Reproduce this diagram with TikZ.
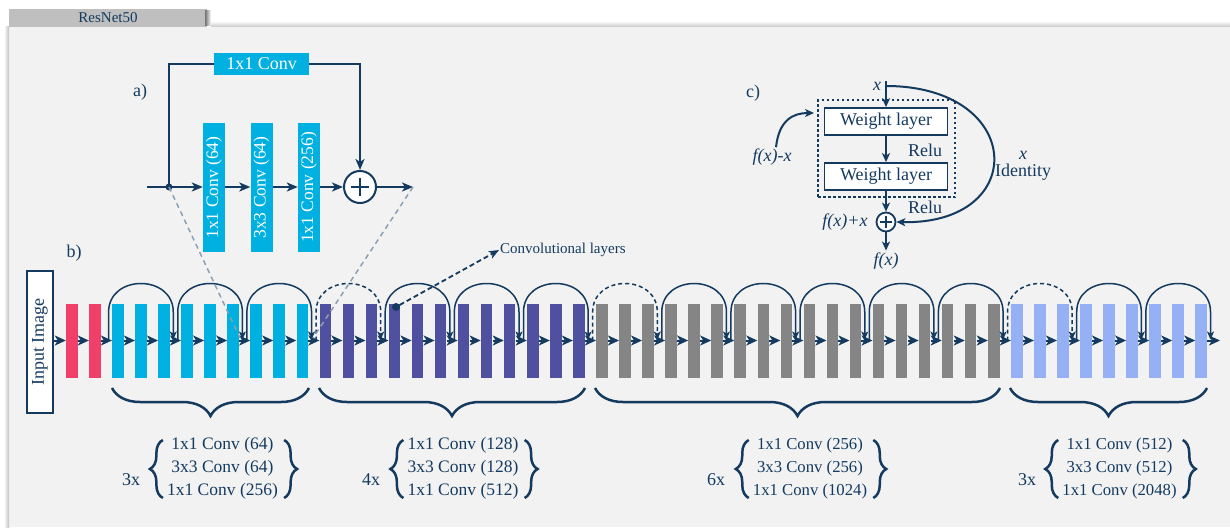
\documentclass[tikz,border=0pt]{standalone}
\usepackage{fontspec}
\setmainfont{Liberation Serif}
\usetikzlibrary{arrows.meta,decorations.pathreplacing,calc}
\definecolor{navy}{RGB}{20,58,95}
\definecolor{panelbg}{RGB}{242,242,242}
\definecolor{tabgray}{RGB}{191,191,191}
\definecolor{cpink}{RGB}{240,64,106}
\definecolor{ccyan}{RGB}{0,176,224}
\definecolor{cpurple}{RGB}{80,80,160}
\definecolor{cgray}{RGB}{133,133,133}
\definecolor{clblue}{RGB}{150,176,245}
\definecolor{zoomgray}{RGB}{140,160,180}
\begin{document}
\begin{tikzpicture}[x=1pt,y=1pt,
  txt/.style={font=\fontsize{18}{21}\selectfont, text=navy},
  itxt/.style={font=\fontsize{18}{21}\selectfont\itshape, text=navy},
  smalltxt/.style={font=\fontsize{15}{18}\selectfont, text=navy},
  bar/.style={minimum width=11.5pt, minimum height=74pt, inner sep=0pt, draw=none},
  mainarrow/.style={navy, line width=2pt, -{Stealth[length=11pt,width=10pt,inset=3pt]}},
  skipsolid/.style={navy, line width=1.5pt, -{Stealth[length=8pt,width=7pt,inset=2pt]}},
  skipdash/.style={skipsolid, dash pattern=on 4pt off 3pt},
  cbox/.style={fill=ccyan, draw=none, inner sep=0pt},
  boxtxt/.style={font=\fontsize{17.5}{21}\selectfont, text=white},
  aarrow/.style={navy, line width=2pt, -{Stealth[length=11pt,width=9pt,inset=3pt]}},
  aline/.style={navy, line width=2pt},
  carrow/.style={navy, line width=2pt, -{Stealth[length=9pt,width=8pt,inset=2.5pt]}},
  wbox/.style={draw=navy, line width=1.8pt, fill=white, minimum width=123pt, minimum height=27pt, inner sep=0pt, font=\fontsize{18}{21}\selectfont, text=navy},
  zoomline/.style={zoomgray, line width=1.5pt, dash pattern=on 5pt off 4pt},
  bracedec/.style={navy, line width=2.5pt, decorate, decoration={brace, mirror, amplitude=28pt}},
  vbrace/.style={navy, line width=2.5pt, decorate, decoration={brace, amplitude=13pt}},
  grp/.style={text=navy, inner sep=0pt, align=center}
]
\useasboundingbox (0,0) rectangle (1230,-527);
\fill[white] (0,0) rectangle (1230,-527);
% tab and panel
\fill[tabgray] (9,-9) rectangle (207,-28);
\shade[left color=black!55, right color=white] (205,-11) rectangle (211,-26);
\node[smalltxt] (tab) at (108,-18) {ResNet50};
\fill[panelbg] (9,-27) rectangle (1230,-527);
\shade[top color=white, bottom color=black!22] (211,-21) rectangle (1230,-27);
\shade[left color=white, right color=black!25] (4,-27) rectangle (9,-527);

% ---------- panel b ----------
\node[txt] (blab) at (74,-253) {b)};
\node[draw=navy, line width=1.5pt, fill=white, minimum width=26pt, minimum height=142pt, inner sep=0pt] (inp) at (40,-342) {};
\node[txt, rotate=90] (inptxt) at (inp.center) {Input Image};

\foreach \i in {0,1}{\pgfmathsetmacro\cx{71.75+23.05*\i}\node[bar, fill=cpink] (b\i) at (\cx,-340.5) {};}
\foreach \i in {2,...,10}{\pgfmathsetmacro\cx{71.75+23.05*\i}\node[bar, fill=ccyan] (b\i) at (\cx,-340.5) {};}
\foreach \i in {11,...,22}{\pgfmathsetmacro\cx{71.75+23.05*\i}\node[bar, fill=cpurple] (b\i) at (\cx,-340.5) {};}
\foreach \i in {23,...,40}{\pgfmathsetmacro\cx{71.75+23.05*\i}\node[bar, fill=cgray] (b\i) at (\cx,-340.5) {};}
\foreach \i in {41,...,49}{\pgfmathsetmacro\cx{71.75+23.05*\i}\node[bar, fill=clblue] (b\i) at (\cx,-340.5) {};}

\coordinate (lineend) at (1220,-340.5);
\draw[mainarrow] (inp.east |- b0.west) -- (b0.west);
\foreach \i in {0,...,48}{\pgfmathtruncatemacro\j{\i+1}\draw[mainarrow] (b\i.east) -- (b\j.west);}
\draw[mainarrow] (b49.east) -- (lineend);

% skip arcs
\foreach \s in {2,5,8,14,17,20,26,29,32,35,38,44,47}{
  \pgfmathsetmacro\xa{66+23.05*\s-3.5}
  \pgfmathsetmacro\xb{66+23.05*(\s+3)-8}
  \coordinate (as\s) at (\xa,-340.5);
  \coordinate (ae\s) at (\xb,-339.5);
  \draw[skipsolid] (as\s) -- (\xa,-312) .. controls (\xa,-274) and (\xb,-274) .. (\xb,-312) -- (ae\s);
}
\foreach \s in {11,23,41}{
  \pgfmathsetmacro\xa{66+23.05*\s-3.5}
  \pgfmathsetmacro\xb{66+23.05*(\s+3)-8}
  \coordinate (as\s) at (\xa,-340.5);
  \coordinate (ae\s) at (\xb,-339.5);
  \draw[skipdash] (as\s) -- (\xa,-312) .. controls (\xa,-274) and (\xb,-274) .. (\xb,-312) -- (ae\s);
}

% convolutional layers annotation
\node[circle, fill=navy, minimum size=8pt, inner sep=0pt] (cdot) at (396,-307) {};
\node[smalltxt, anchor=west, inner sep=1pt] (cl) at (499,-250) {Convolutional layers};
\draw[navy, line width=1.8pt, dash pattern=on 5pt off 3pt, -{Stealth[length=10pt,width=8pt,inset=2.5pt]}] (cdot) -- (cl.west);

% braces under stages
\coordinate (br1a) at (112,-388); \coordinate (br1b) at (309,-388);
\coordinate (br2a) at (319,-388); \coordinate (br2b) at (585,-388);
\coordinate (br3a) at (595,-388); \coordinate (br3b) at (1000,-388);
\coordinate (br4a) at (1010,-388); \coordinate (br4b) at (1207,-388);
\draw[bracedec] (br1a) -- (br1b);
\draw[bracedec] (br2a) -- (br2b);
\draw[bracedec] (br3a) -- (br3b);
\draw[bracedec] (br4a) -- (br4b);

% stage descriptions
\node[txt] (n1) at (131,-480) {3x};
\node[grp, font=\fontsize{17.5}{23}\selectfont] (g1) at (222.5,-468) {1x1 Conv (64)\\3x3 Conv (64)\\1x1 Conv (256)};
\node[txt] (n2) at (371,-480) {4x};
\node[grp, font=\fontsize{17.5}{23}\selectfont] (g2) at (463,-468) {1x1 Conv (128)\\3x3 Conv (128)\\1x1 Conv (512)};
\node[txt] (n3) at (716,-480) {6x};
\node[grp, font=\fontsize{16.7}{23}\selectfont] (g3) at (810,-468) {1x1 Conv (256)\\3x3 Conv (256)\\1x1 Conv (1024)};
\node[txt] (n4) at (1027,-480) {3x};
\node[grp, font=\fontsize{16.7}{23}\selectfont] (g4) at (1119.5,-468) {1x1 Conv (512)\\3x3 Conv (512)\\1x1 Conv (2048)};
\foreach \g in {g1,g2,g3,g4}{
  \draw[vbrace] ([xshift=-4pt]\g.west |- 0,-498) -- ([xshift=-4pt]\g.west |- 0,-440);
  \draw[vbrace] ([xshift=6pt]\g.east |- 0,-440) -- ([xshift=6pt]\g.east |- 0,-498);
}

% ---------- panel a ----------
\node[txt] (alab) at (140,-92) {a)};
\coordinate (ain) at (147,-187);
\coordinate (aout) at (413,-187);
\node[circle, fill=navy, minimum size=7pt, inner sep=0pt] (dot) at (169,-187) {};
\node[cbox, minimum width=22pt, minimum height=129pt] (c1) at (214,-187.5) {};
\node[cbox, minimum width=22pt, minimum height=129pt] (c2) at (261.5,-187.5) {};
\node[cbox, minimum width=22pt, minimum height=129pt] (c3) at (309,-187.5) {};
\node[boxtxt, rotate=90] (c1t) at (c1.center) {1x1 Conv (64)};
\node[boxtxt, rotate=90] (c2t) at (c2.center) {3x3 Conv (64)};
\node[boxtxt, rotate=90] (c3t) at (c3.center) {1x1 Conv (256)};
\node[cbox, minimum width=95pt, minimum height=22pt, boxtxt, font=\fontsize{18}{21}\selectfont] (ctop) at (261.5,-64) {1x1 Conv};
\node[circle, draw=navy, line width=2pt, fill=white, minimum size=32pt, inner sep=0pt] (plus) at (360,-187) {};
\draw[navy, line width=1.8pt] ($(plus.center)+(-9,0)$) -- ($(plus.center)+(9,0)$);
\draw[navy, line width=1.8pt] ($(plus.center)+(0,-9)$) -- ($(plus.center)+(0,9)$);
\draw[aarrow] (ain) -- (c1.west |- ain);
\draw[aarrow] (c1.east |- ain) -- (c2.west |- ain);
\draw[aarrow] (c2.east |- ain) -- (c3.west |- ain);
\draw[aarrow] (c3.east |- ain) -- (plus.west);
\draw[aarrow] (plus.east) -- (aout);
\draw[aline] (dot.center) |- (ctop.west);
\draw[aarrow] (ctop.east) -| (plus.north);
\coordinate (zl1) at (240,-338);
\coordinate (zl2) at (313,-338);
\draw[zoomline] (dot.center) -- (zl1);
\draw[zoomline] (aout) -- (zl2);

% ---------- panel c ----------
\node[txt] (clab) at (753,-93) {c)};
\node[itxt] (xin) at (877,-86) {x};
\coordinate (xtop) at (886,-81);
\coordinate (xcurve) at (886,-86);
\node[draw=navy, line width=1.8pt, dash pattern=on 2.5pt off 2.5pt, minimum width=137pt, minimum height=97pt, inner sep=0pt] (dbox) at (886.5,-148.5) {};
\node[wbox] (w1) at (886,-121.5) {Weight layer};
\node[wbox] (w2) at (886,-176.5) {Weight layer};
\node[circle, draw=navy, line width=1.8pt, fill=white, minimum size=19pt, inner sep=0pt] (cplus) at (886,-222) {};
\draw[navy, line width=1.6pt] ($(cplus.center)+(-6,0)$) -- ($(cplus.center)+(6,0)$);
\draw[navy, line width=1.6pt] ($(cplus.center)+(0,-6)$) -- ($(cplus.center)+(0,6)$);
\node[itxt, inner sep=2pt] (fx) at (886,-261) {f(x)};
\draw[carrow] (xtop) -- (w1.north);
\draw[carrow] (w1.south) -- (w2.north);
\draw[carrow] (w2.south) -- (cplus.north);
\draw[carrow] (cplus.south) -- (fx.north);
\node[txt] (relu1) at (925,-150) {Relu};
\node[txt] (relu2) at (925,-207) {Relu};
\node[itxt] (fpx) at (845,-222) {f(x)+x};
\node[itxt] (fmx) at (772,-157) {f(x)-x};
\coordinate (fmxt) at (814,-113);
\draw[carrow] ([xshift=4pt,yshift=-2pt]fmx.north) .. controls (779,-120) and (793,-113) .. (fmxt);
\draw[carrow] (xcurve) .. controls (1025,-86) and (1030,-225) .. (cplus.east);
\node[itxt] (xid) at (1023,-155) {x};
\node[txt] (ident) at (1023,-172) {Identity};
\end{tikzpicture}
\end{document}
